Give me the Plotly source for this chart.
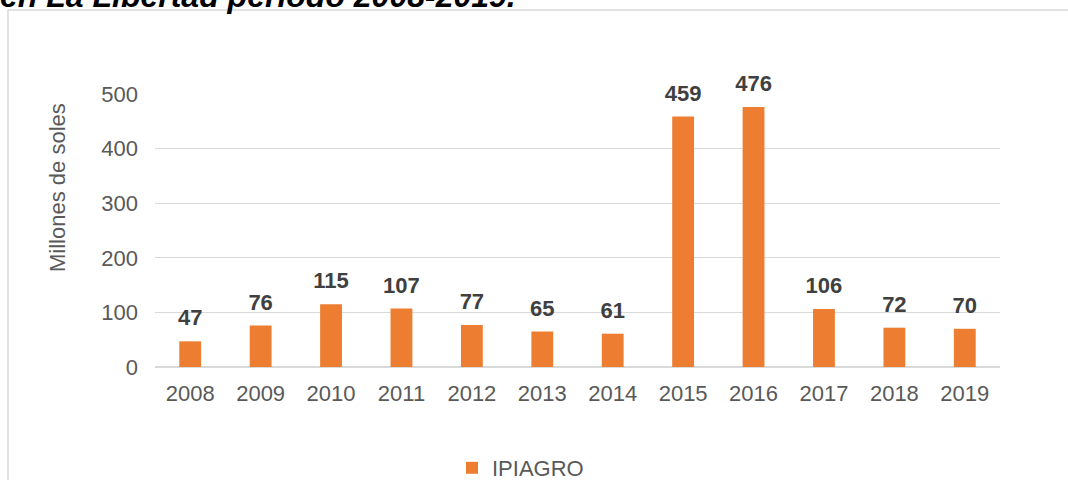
import plotly.graph_objects as go

years = ["2008", "2009", "2010", "2011", "2012", "2013",
         "2014", "2015", "2016", "2017", "2018", "2019"]
ipiagro = [47, 76, 115, 107, 77, 65, 61, 459, 476, 106, 72, 70]

W, H = 1068, 480
L, R, T, B = 155, 68, 94, 113
pw, ph = W - L - R, H - T - B

FONT = "Liberation Sans"
GREY = "#595959"
SIZE = 22


def px_x(x):
    return (x - L) / pw


def px_y(y):
    return (H - B - y) / ph


fig = go.Figure()
fig.add_trace(go.Bar(
    x=years, y=ipiagro, name="IPIAGRO",
    marker=dict(color="#ED7D31", line=dict(width=0)),
    cliponaxis=False,
))

# value labels sitting above each bar (invisible anchor markers push them up)
fig.add_trace(go.Scatter(
    x=years, y=ipiagro, mode="markers+text",
    text=[f"<b>{v}</b>" for v in ipiagro], textposition="top center",
    marker=dict(size=15, opacity=0),
    textfont=dict(size=SIZE, color="#404040", family=FONT),
    showlegend=False, hoverinfo="skip", cliponaxis=False,
))

fig.update_layout(
    width=W, height=H,
    margin=dict(l=L, r=R, t=T, b=B, autoexpand=False),
    paper_bgcolor="white", plot_bgcolor="white",
    bargap=0.69,
    font=dict(family=FONT, color=GREY, size=SIZE),
    showlegend=True,
    legend=dict(orientation="h", x=px_x(452), xanchor="left",
                y=px_y(468), yanchor="middle",
                bgcolor="rgba(0,0,0,0)",
                font=dict(size=SIZE, color=GREY),
                itemwidth=30),
    xaxis=dict(type="category", range=[-0.5, 11.5],
               showgrid=False, showline=False, ticks="",
               ticklabelstandoff=11,
               tickfont=dict(size=SIZE, color=GREY)),
    yaxis=dict(range=[0, 500], dtick=100, showgrid=True,
               gridcolor="#D9D9D9", gridwidth=1, zeroline=True,
               zerolinecolor="#D9D9D9", showline=False, ticks="",
               ticklabelstandoff=16,
               tickfont=dict(size=SIZE, color=GREY)),
)

# axis title, set higher than the plot centre
fig.add_annotation(
    xref="paper", yref="paper", x=px_x(57), y=px_y(188),
    xanchor="center", yanchor="middle", showarrow=False, textangle=-90,
    text="Millones de soles",
    font=dict(size=SIZE, color=GREY, family=FONT),
)

# surrounding chart frame (only its top and left edges fall inside the view)
fig.add_shape(type="rect", xref="paper", yref="paper",
              x0=px_x(8), x1=px_x(1300), y0=px_y(700), y1=px_y(10),
              line=dict(color="#D9D9D9", width=1.5), fillcolor="rgba(0,0,0,0)",
              layer="below")

fig.add_annotation(
    xref="paper", yref="paper", x=px_x(-2), y=px_y(16),
    xanchor="left", yanchor="bottom", showarrow=False,
    text="<b><i>en La Libertad periodo 2008-2019.</i></b>",
    font=dict(size=32, color="black", family=FONT),
)

fig.write_html("out.html")
